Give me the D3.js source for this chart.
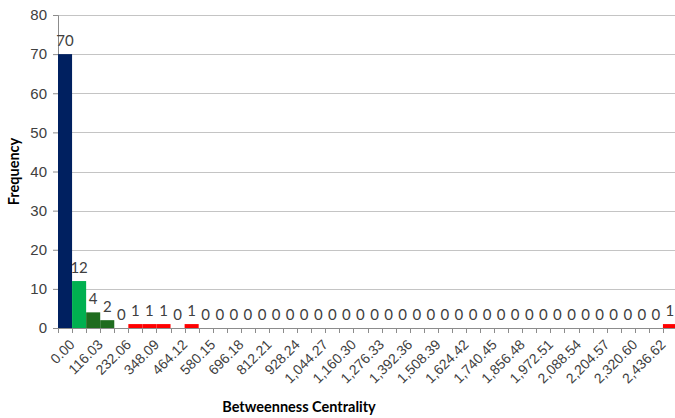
<!DOCTYPE html>
<html>
<head>
<meta charset="utf-8">
<script src="https://cdn.jsdelivr.net/npm/d3@7"></script>
<style>
  body { margin: 0; background: #fff; }
  svg { display: block; font-family: Lato, "Open Sans", sans-serif; }
</style>
</head>
<body>
<div class="chart"></div>
<script>
// bin labels (upper edges); only every other one is printed on the axis
const bins = [
  "0.00", "58.01", "116.03", "174.04", "232.06", "290.07", "348.09", "406.10",
  "464.12", "522.13", "580.15", "638.16", "696.18", "754.19", "812.21", "870.22",
  "928.24", "986.25", "1,044.27", "1,102.28", "1,160.30", "1,218.31", "1,276.33", "1,334.34",
  "1,392.36", "1,450.37", "1,508.39", "1,566.40", "1,624.42", "1,682.43", "1,740.45", "1,798.46",
  "1,856.48", "1,914.49", "1,972.51", "2,030.52", "2,088.54", "2,146.55", "2,204.57", "2,262.58",
  "2,320.60", "2,378.61", "2,436.62", "More"
];
const frequency = [
  70, 12, 4, 2, 0, 1, 1, 1, 0, 1,
  0, 0, 0, 0, 0, 0, 0, 0, 0, 0,
  0, 0, 0, 0, 0, 0, 0, 0, 0, 0,
  0, 0, 0, 0, 0, 0, 0, 0, 0, 0,
  0, 0, 0, 1
];
const yTicks = [0, 10, 20, 30, 40, 50, 60, 70, 80];

const chart = {
    width: 675,
    height: 418,
    margin: {top: 15, right: -2, bottom: 90, left: 58},
    load: function() {
        const data = bins.map((b, i) => ({bin: b, value: frequency[i], i: i}));
        const m = this.margin;

        const x = d3.scaleBand()
            .domain(bins)
            .range([m.left, this.width - m.right]);
        const y = d3.scaleLinear()
            .domain([0, 80])
            .range([this.height - m.bottom, m.top]);
        const color = d3.scaleThreshold()
            .domain([2, 10, 50])
            .range(["#ff0000", "#1f6c1f", "#00b050", "#002060"]);

        const svg = d3.select(".chart")
            .append("svg")
            .attr("width", this.width)
            .attr("height", this.height);

        // gridlines
        svg.append("g")
            .selectAll("line")
            .data(yTicks.filter(d => d > 0))
            .join("line")
            .attr("x1", m.left)
            .attr("x2", this.width)
            .attr("y1", d => Math.round(y(d)) + 0.5)
            .attr("y2", d => Math.round(y(d)) + 0.5)
            .attr("stroke", "#c4c4c4")
            .attr("stroke-width", 1.2);

        // y axis
        const yAxis = svg.append("g")
            .attr("transform", `translate(${m.left},0)`)
            .call(d3.axisLeft(y).tickValues(yTicks).tickSize(5).tickPadding(6));
        yAxis.selectAll("path, line").attr("stroke", "#8c8c8c");
        yAxis.selectAll("text")
            .attr("font-size", 15)
            .attr("fill", "#404040");

        // bars
        svg.append("g")
            .selectAll("rect")
            .data(data.filter(d => d.value > 0))
            .join("rect")
            .attr("x", d => x(d.bin))
            .attr("width", x.bandwidth())
            .attr("y", d => y(d.value))
            .attr("height", d => y(0) - y(d.value))
            .attr("fill", d => color(d.value));

        // x axis
        const xAxis = svg.append("g")
            .attr("transform", `translate(0,${y(0)})`)
            .call(d3.axisBottom(x).tickSize(0).tickFormat((d, i) => i % 2 === 0 ? d : ""));
        xAxis.select(".domain").attr("stroke", "#8c8c8c");
        xAxis.selectAll("text")
            .attr("font-size", 14)
            .attr("fill", "#404040")
            .attr("text-anchor", "end")
            .attr("dy", "0.35em")
            .attr("transform", "translate(5,12) rotate(-45)");
        svg.append("g")
            .selectAll("line")
            .data(bins)
            .join("line")
            .attr("x1", d => Math.round(x(d)) + 0.5)
            .attr("x2", d => Math.round(x(d)) + 0.5)
            .attr("y1", y(0))
            .attr("y2", y(0) + 5)
            .attr("stroke", "#8c8c8c");

        // data labels
        svg.append("g")
            .selectAll("text")
            .data(data)
            .join("text")
            .attr("x", d => x(d.bin) + x.bandwidth() / 2)
            .attr("y", d => y(d.value) - 8)
            .attr("text-anchor", "middle")
            .attr("font-size", 15)
            .attr("fill", "#404040")
            .text(d => d.value);

        // axis titles
        svg.append("text")
            .attr("transform", `translate(19,${(y(0) + y(80)) / 2}) rotate(-90)`)
            .attr("text-anchor", "middle")
            .attr("font-size", 14.5)
            .attr("font-weight", "bold")
            .attr("fill", "#000")
            .text("Frequency");
        svg.append("text")
            .attr("x", 299)
            .attr("y", 412)
            .attr("text-anchor", "middle")
            .attr("font-size", 14.5)
            .attr("font-weight", "bold")
            .attr("fill", "#000")
            .text("Betweenness Centrality");

        return svg.node();
    }
};

chart.load();
</script>
</body>
</html>
